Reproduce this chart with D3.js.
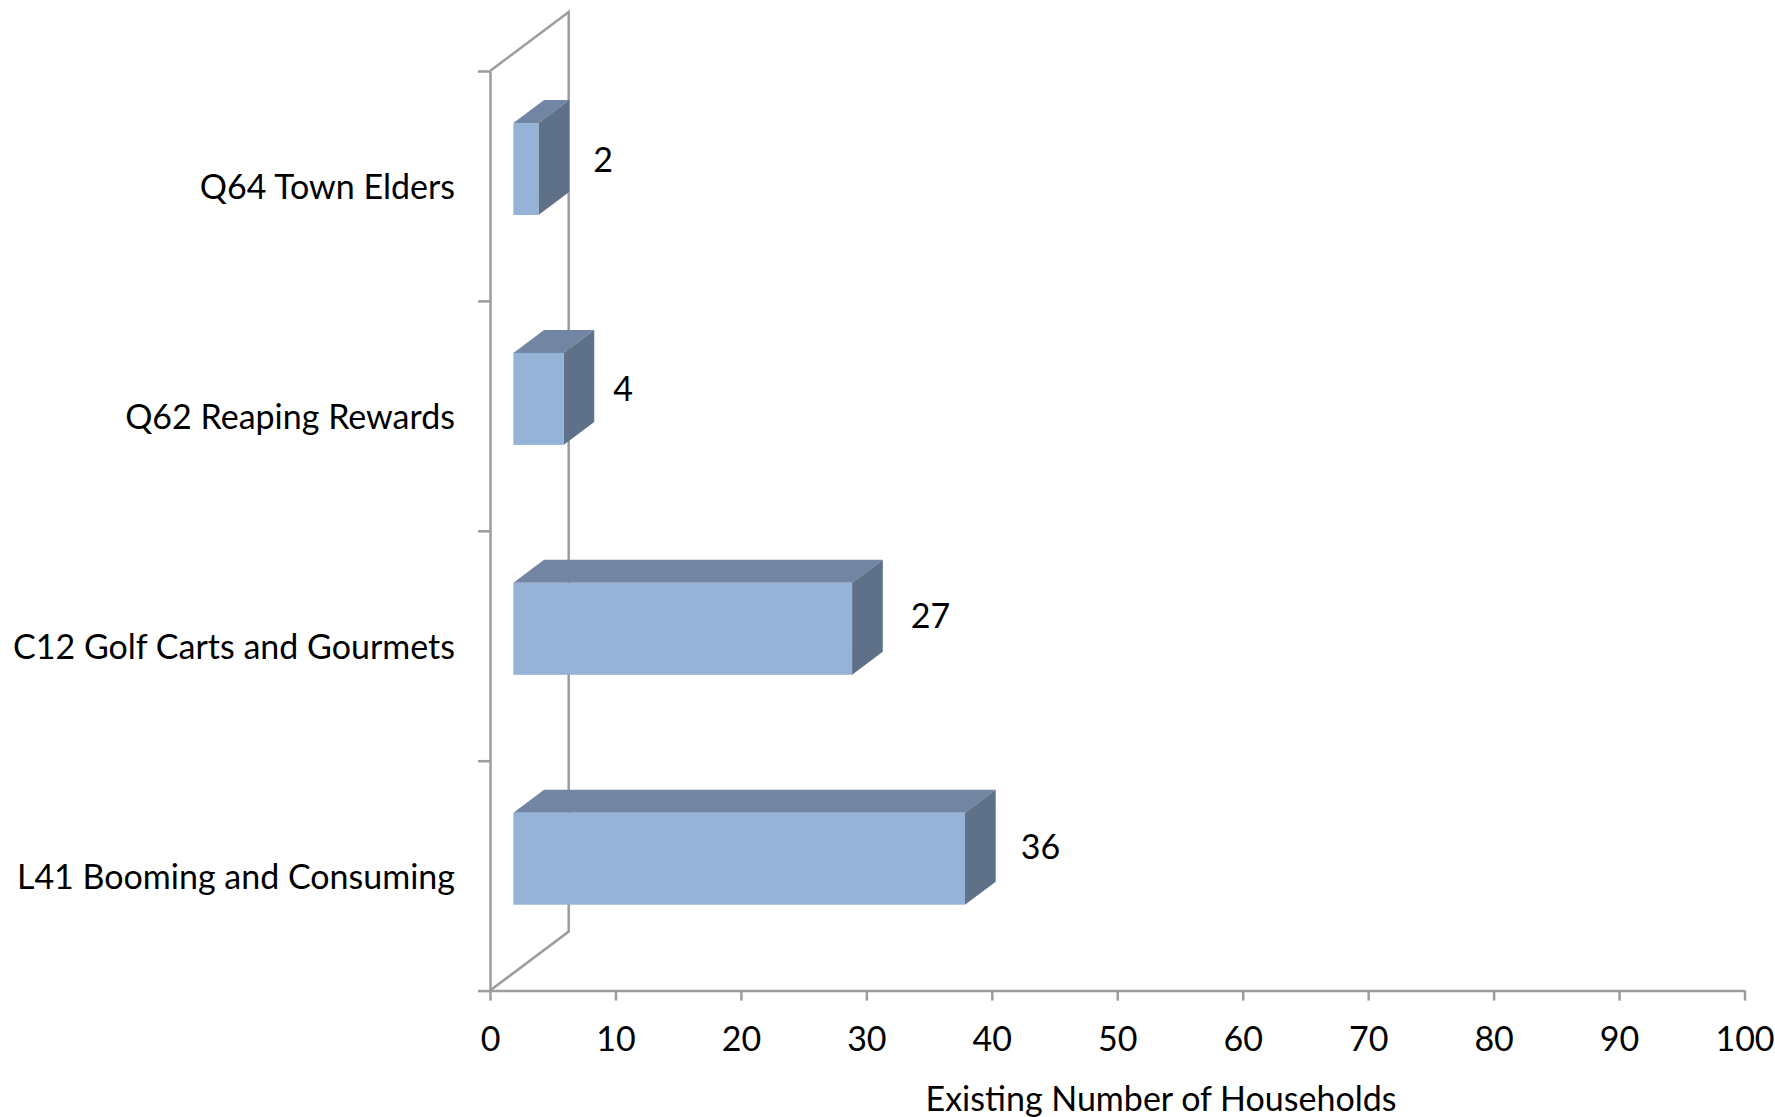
<!DOCTYPE html>
<html>
<head>
<meta charset="utf-8">
<script src="https://cdn.jsdelivr.net/npm/d3@7/dist/d3.min.js"></script>
<style>
html,body{margin:0;padding:0;background:#fff;}
svg{display:block;}
text{font-family:Lato,"Open Sans",sans-serif;fill:#000;}
</style>
</head>
<body>
<svg id="chart" width="1775" height="1117"></svg>
<script>
// Data
const categories = ["Q64 Town Elders", "Q62 Reaping Rewards", "C12 Golf Carts and Gourmets", "L41 Booming and Consuming"];
const households = [2, 4, 27, 36];
const valueTicks = [0, 10, 20, 30, 40, 50, 60, 70, 80, 90, 100];
const axisTitle = "Existing Number of Households";

// Layout
const W = 1775, H = 1117;
const plot = {left: 490, right: 1744.5, top: 71, bottom: 990.6};
const wall = {dx: 78.7, dy: -59};
const bar = {depthStart: 0.297, depthSpan: 0.39, heightShare: 0.4, shiftY: 0.6};
const labelGap = [24, 19, 28, 25];
const labelShiftY = [3, 2, -1, 0];
const fontSize = 34;
const colors = {front: "#95B3D7", top: "#7286A3", side: "#5F7189", axis: "#9C9C9C"};

const svg = d3.select("#chart");
const x = d3.scaleLinear().domain([0, 100]).range([plot.left, plot.right]);
const y = d3.scaleBand().domain(categories).range([plot.top, plot.bottom]).paddingInner(0).paddingOuter(0);
const yBounds = d3.scaleLinear().domain([0, categories.length]).range([plot.top, plot.bottom]);

// 3-D projection: depth 0 = front plane, 1 = back wall
const px = (v, d) => x(v) + d * wall.dx;
const py = (yy, d) => yy + d * wall.dy;
const line = d3.line();

// Back wall
svg.append("path")
  .attr("d", line([
    [plot.left, plot.top],
    [px(0, 1), py(plot.top, 1)],
    [px(0, 1), py(plot.bottom, 1)],
    [plot.left, plot.bottom]
  ]))
  .attr("fill", "none").attr("stroke", colors.axis).attr("stroke-width", 2.5);

// Bars
const d0 = bar.depthStart, d1 = bar.depthStart + bar.depthSpan;
const barH = y.bandwidth() * bar.heightShare;
const rows = categories.map((c, i) => ({c, v: households[i], i}));
const g = svg.selectAll("g.bar").data(rows).join("g").attr("class", "bar");

const topOf = d => y(d.c) + y.bandwidth() / 2 - barH / 2 + bar.shiftY;
const botOf = d => topOf(d) + barH;

g.append("path").attr("fill", colors.top).attr("d", d => line([
  [px(0, d0), py(topOf(d), d0)],
  [px(d.v, d0), py(topOf(d), d0)],
  [px(d.v, d1), py(topOf(d), d1)],
  [px(0, d1), py(topOf(d), d1)]
]) + "Z");
g.append("path").attr("fill", colors.side).attr("d", d => line([
  [px(d.v, d0), py(topOf(d), d0)],
  [px(d.v, d1), py(topOf(d), d1)],
  [px(d.v, d1), py(botOf(d), d1)],
  [px(d.v, d0), py(botOf(d), d0)]
]) + "Z");
g.append("rect").attr("fill", colors.front)
  .attr("x", px(0, d0))
  .attr("y", d => py(topOf(d), d0))
  .attr("width", d => x(d.v) - x(0))
  .attr("height", barH);

// Value labels
g.append("text")
  .attr("x", d => px(d.v, d1) + labelGap[d.i])
  .attr("y", d => (py(topOf(d), d1) + py(botOf(d), d0)) / 2 + labelShiftY[d.i])
  .attr("dy", "0.35em")
  .attr("font-size", fontSize)
  .text(d => d.v);

// Left axis: tick marks on the band boundaries
const tickG = svg.append("g").attr("transform", `translate(${plot.left},0)`)
  .call(d3.axisLeft(yBounds).tickValues(d3.range(categories.length + 1)).tickSize(12).tickSizeOuter(0).tickFormat(""));
tickG.selectAll("path,line").attr("stroke", colors.axis).attr("stroke-width", 2.5);

// Left axis: category labels at band centres
const catG = svg.append("g").attr("transform", `translate(${plot.left},2)`)
  .call(d3.axisLeft(y).tickSize(0).tickPadding(35));
catG.select("path").remove();
catG.selectAll("text").attr("font-size", fontSize).attr("fill", "#000");

// Bottom axis
const xG = svg.append("g").attr("transform", `translate(0,${plot.bottom})`)
  .call(d3.axisBottom(x).tickValues(valueTicks).tickSize(10).tickSizeOuter(0).tickPadding(26));
xG.selectAll("path,line").attr("stroke", colors.axis).attr("stroke-width", 2.5);
xG.selectAll("text").attr("font-size", fontSize).attr("fill", "#000");

// Axis title
svg.append("text")
  .attr("x", 1161).attr("y", 1099).attr("dy", "0.35em")
  .attr("text-anchor", "middle").attr("font-size", fontSize)
  .text(axisTitle);
</script>
</body>
</html>
